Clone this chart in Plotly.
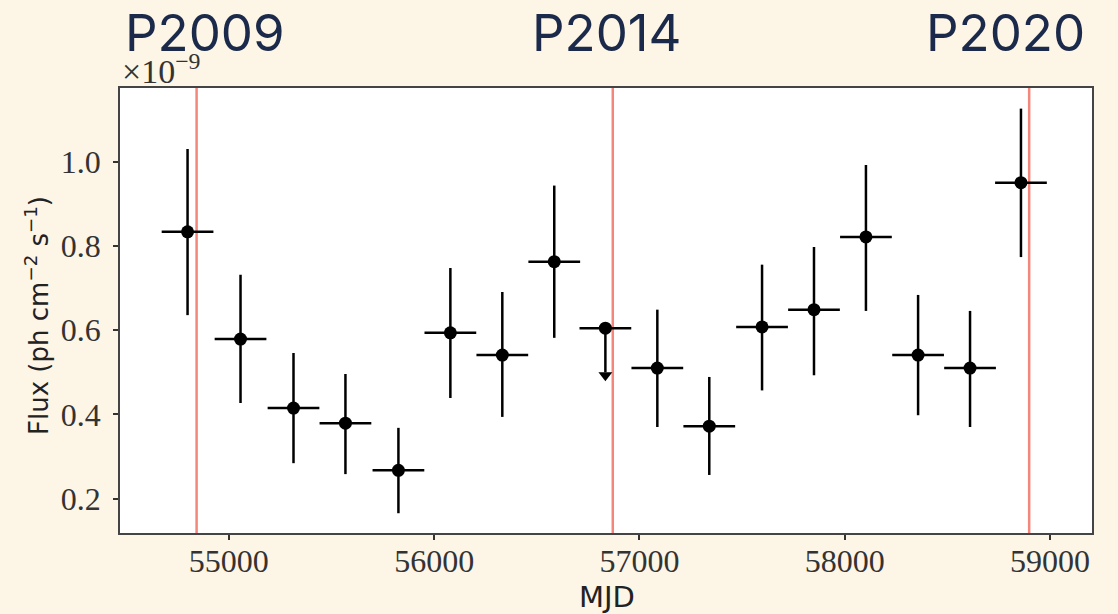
import plotly.graph_objects as go

# Data (flux in units of 1e-9 ph cm^-2 s^-1)
mjd = [54799, 55057, 55315, 55568, 55826, 56079, 56332, 56585, 56834,
       57087, 57340, 57597, 57850, 58103, 58357, 58610, 58858]
flux = [0.834, 0.579, 0.415, 0.379, 0.267, 0.594, 0.541, 0.763, 0.605,
        0.510, 0.372, 0.608, 0.649, 0.822, 0.541, 0.510, 0.951]
flux_hi = [1.031, 0.732, 0.546, 0.496, 0.368, 0.748, 0.691, 0.944, 0.605,
           0.649, 0.489, 0.756, 0.798, 0.993, 0.684, 0.646, 1.127]
flux_lo = [0.636, 0.427, 0.284, 0.258, 0.165, 0.439, 0.394, 0.582, 0.500,
           0.370, 0.256, 0.457, 0.493, 0.646, 0.398, 0.370, 0.774]
mjd_halfwidth = 126
upper_limit_index = 8
upper_limit_tip = 0.493
period_mjd = [54843, 56870, 58898]
period_labels = ["P2009", "P2014", "P2020"]
period_label_x = [0.0875, 0.501, 0.9115]
x_ticks = [55000, 56000, 57000, 58000, 59000]
y_ticks = [0.2, 0.4, 0.6, 0.8, 1.0]

err_plus = [h - f for h, f in zip(flux_hi, flux)]
err_minus = [f - l for f, l in zip(flux, flux_lo)]

fig = go.Figure()

for xm in period_mjd:
    fig.add_shape(type="line", x0=xm, x1=xm, y0=0, y1=1, xref="x", yref="paper",
                  line=dict(color="#f4877c", width=2.5), layer="below")

fig.add_trace(go.Scatter(
    x=mjd, y=flux, mode="markers",
    marker=dict(color="black", size=13),
    error_y=dict(type="data", symmetric=False, array=err_plus, arrayminus=err_minus,
                 color="black", thickness=2.5, width=0),
    error_x=dict(type="constant", value=mjd_halfwidth, color="black", thickness=2.5, width=0),
    showlegend=False, hoverinfo="skip"))

fig.add_trace(go.Scatter(
    x=[mjd[upper_limit_index]], y=[upper_limit_tip], mode="markers",
    marker=dict(color="black", size=12, symbol="triangle-down"),
    showlegend=False, hoverinfo="skip"))

for lab, px in zip(period_labels, period_label_x):
    fig.add_annotation(text=lab, x=px, y=1.1236, xref="paper", yref="paper",
                       xanchor="center", yanchor="middle", showarrow=False,
                       font=dict(family="Inter", size=51, color="#1b2a4a"))

fig.add_annotation(text="×10<sup>−9</sup>", x=0.0, y=1.0, xref="paper", yref="paper",
                   xanchor="left", yanchor="bottom", showarrow=False, yshift=-4,
                   font=dict(family="Liberation Serif", size=34, color="#333"))

fig.add_annotation(text="Flux (ph cm<sup>−2</sup> s<sup>−1</sup>)", x=-0.0854, y=0.49,
                   xref="paper", yref="paper", textangle=-90, showarrow=False,
                   xanchor="center", yanchor="middle",
                   font=dict(family="DejaVu Sans", size=26, color="#222"))

fig.add_annotation(text="MJD", x=0.501, y=-0.1438, xref="paper", yref="paper",
                   showarrow=False, xanchor="center", yanchor="middle",
                   font=dict(family="DejaVu Sans", size=29, color="#222"))

axis_common = dict(showgrid=False, zeroline=False, showline=True, mirror=True,
                   linecolor="#444", linewidth=1.5, ticks="outside", ticklen=5,
                   tickwidth=1.5, tickcolor="#333",
                   tickfont=dict(family="Liberation Serif", size=32, color="#333"))

fig.update_layout(
    width=1118, height=614,
    margin=dict(l=120, r=26, t=88, b=81),
    paper_bgcolor="#fdf5e6", plot_bgcolor="white",
    xaxis=dict(range=[54470, 59204], tickvals=x_ticks,
               ticktext=[str(v) for v in x_ticks], ticklabelstandoff=-6, **axis_common),
    yaxis=dict(range=[0.118, 1.176], tickvals=y_ticks,
               ticktext=[f"{v:.1f}" for v in y_ticks], ticklabelstandoff=6, **axis_common),
)

fig.write_html("out.html")
